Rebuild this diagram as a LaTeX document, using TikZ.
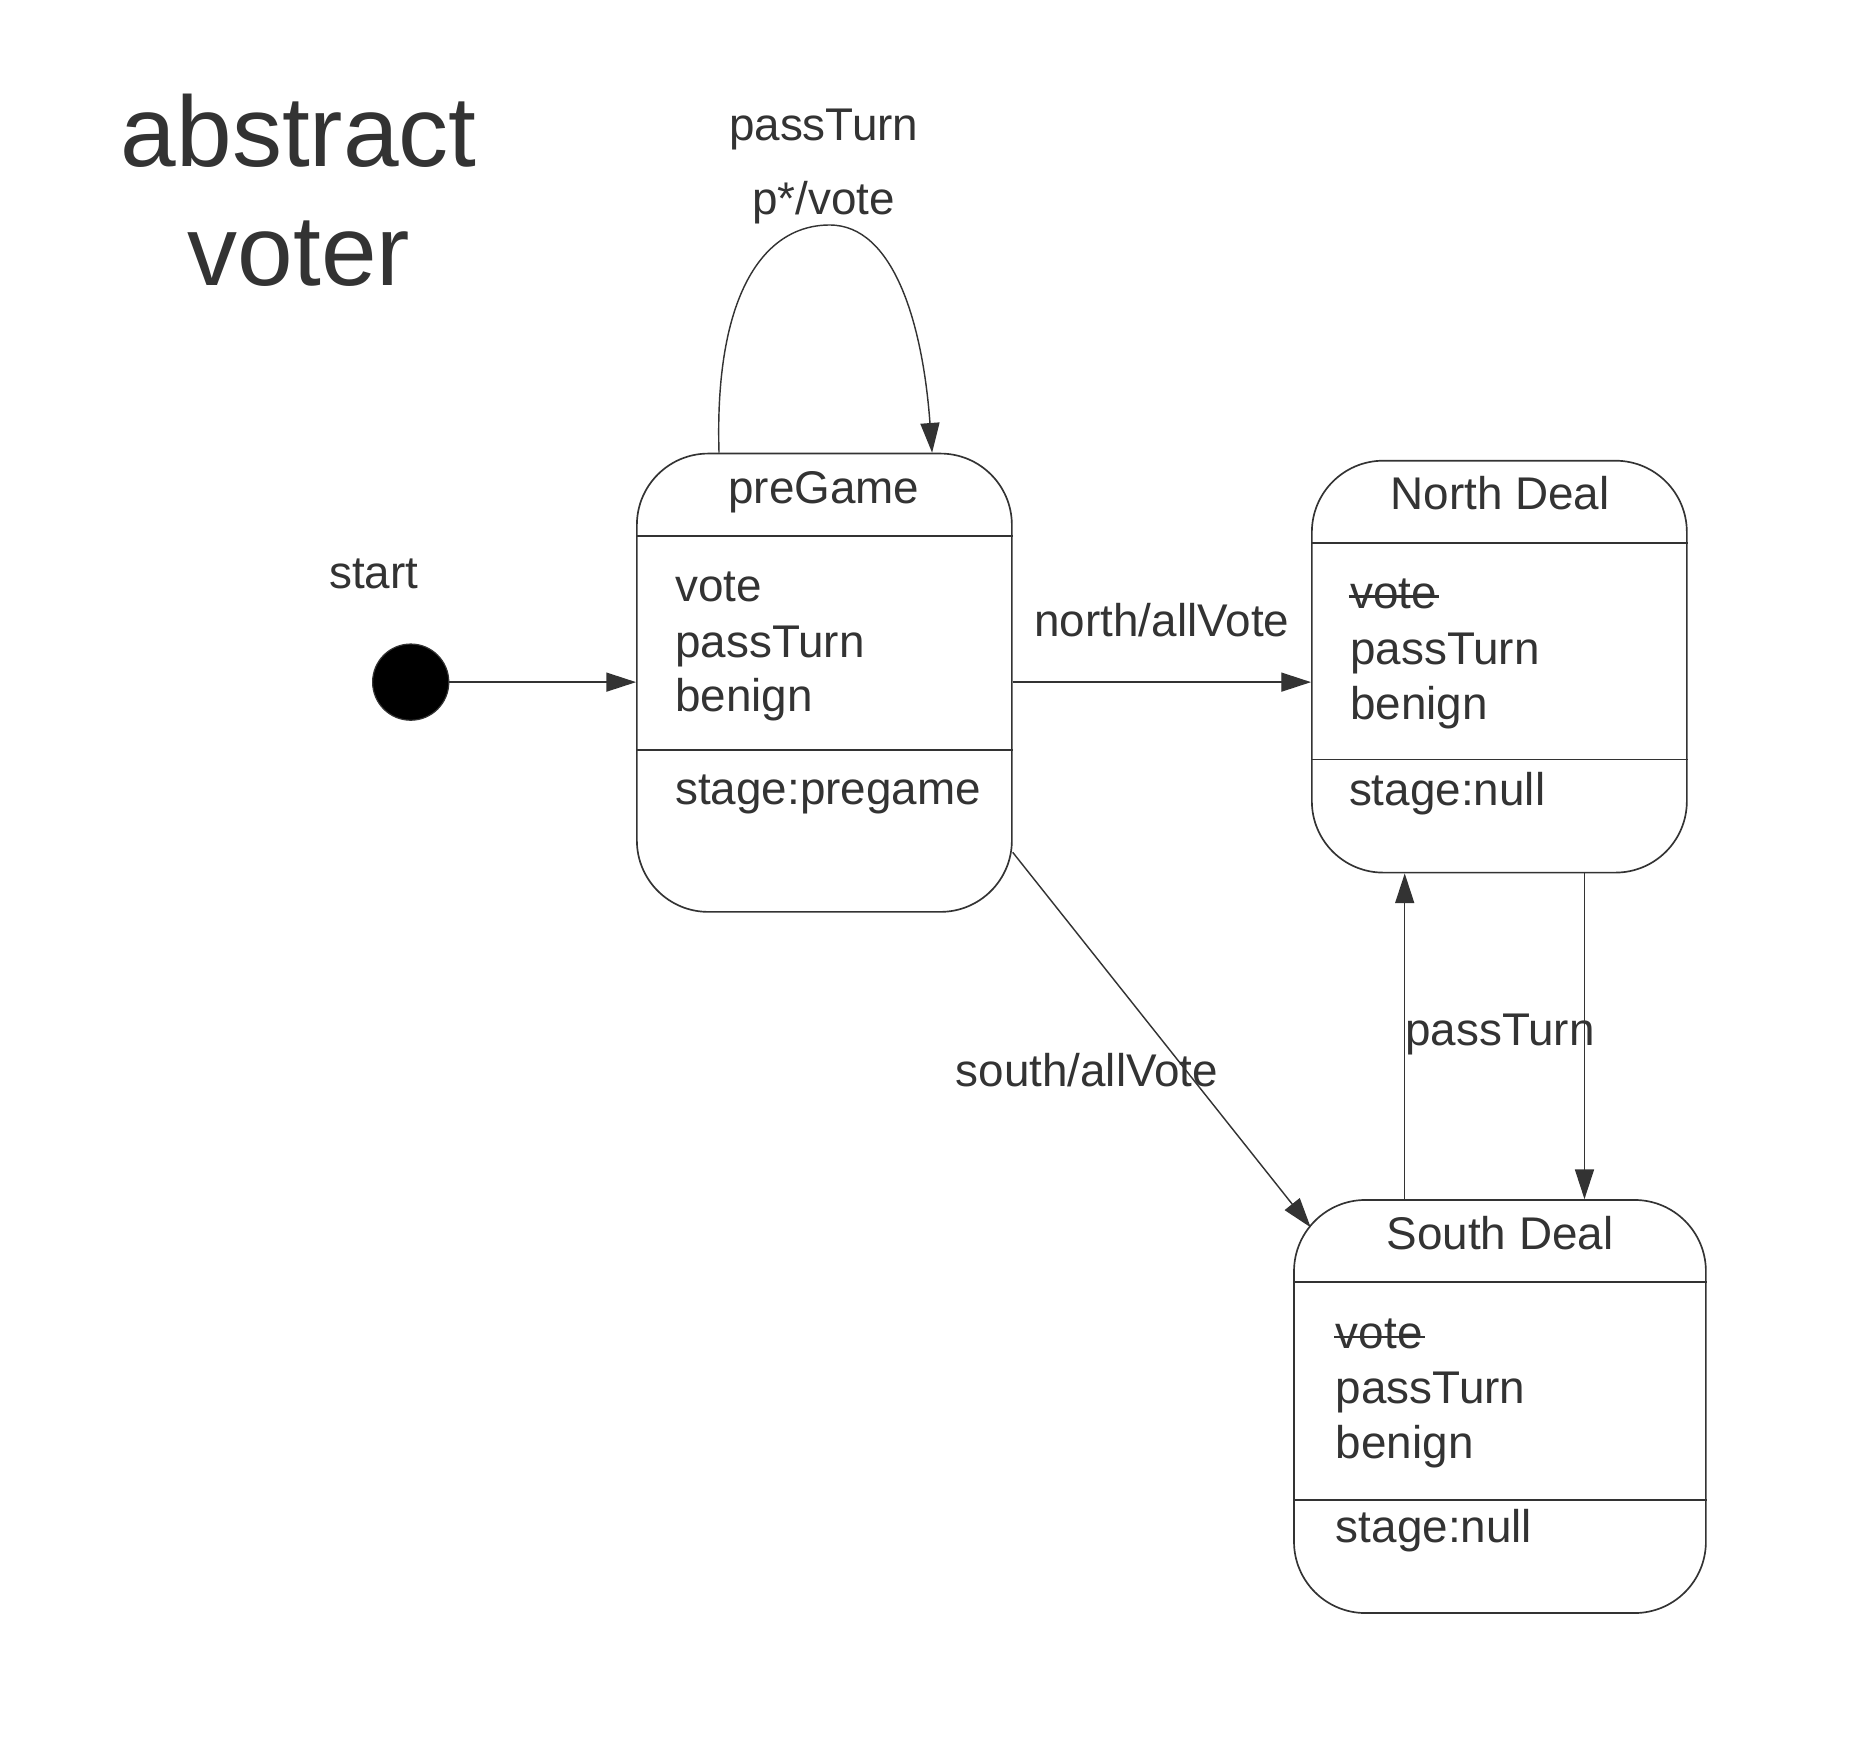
\documentclass[tikz,border=0pt]{standalone}
\usepackage{fontspec}
\setmainfont{Liberation Sans}
\usetikzlibrary{arrows.meta}
\definecolor{ink}{HTML}{333333}
\tikzset{
  state/.style={draw=ink, line width=1.4pt, rounded corners=60pt, inner sep=0pt},
  lbl/.style={text=ink, font=\fontsize{38.5}{46}\selectfont, inner sep=0pt, anchor=base},
  item/.style={lbl, anchor=base west},
  bigtitle/.style={text=ink, font=\fontsize{84}{100}\selectfont, inner sep=0pt, anchor=base},
  conn/.style={draw=ink, line width=1.2pt, -{Triangle[length=25pt,width=16pt]}},
  divider/.style={draw=ink, line width=1.4pt},
  strike/.style={draw=ink, line width=2.2pt},
}
\begin{document}
\begin{tikzpicture}[x=1pt, y=-1pt]
\useasboundingbox[fill=white] (0,0) rectangle (1567.5,1476);

% title
\node[bigtitle] (t1) at (251,140) {abstract};
\node[bigtitle] (t2) at (251,240) {voter};

% start
\node[circle, fill=black, draw=ink, line width=1pt, minimum size=64pt, inner sep=0pt] (start) at (345,573) {};
\node[lbl] (startlbl) at (314,494) {start};

% states
\node[state, minimum width=315pt, minimum height=385pt] (pre) at (692.5,573.5) {};
\node[state, minimum width=315pt, minimum height=346pt] (nd) at (1259.5,560) {};
\node[state, minimum width=346pt, minimum height=347pt] (sd) at (1260,1181.5) {};

% dividers
\coordinate (pd1) at (0,450);
\coordinate (pd2) at (0,630);
\coordinate (nd1) at (0,456);
\coordinate (nd2) at (0,638);
\coordinate (sd1) at (0,1077);
\coordinate (sd2) at (0,1260);
\draw[divider] (pre.west |- pd1) -- (pre.east |- pd1);
\draw[divider] (pre.west |- pd2) -- (pre.east |- pd2);
\draw[divider] (nd.west |- nd1) -- (nd.east |- nd1);
\draw[divider] (nd.west |- nd2) -- (nd.east |- nd2);
\draw[divider] (sd.west |- sd1) -- (sd.east |- sd1);
\draw[divider] (sd.west |- sd2) -- (sd.east |- sd2);

% preGame texts
\node[lbl] (preT) at (692,423) {preGame};
\node[item] (pre1) at (567,505) {vote};
\node[item] (pre2) at (567,552) {passTurn};
\node[item] (pre3) at (567,598) {benign};
\node[item] (pre4) at (567,676) {stage:pregame};

% North Deal texts
\node[lbl] (ndT) at (1260,428) {North Deal};
\node[item] (nd1t) at (1134,511) {vote};
\node[item] (nd2t) at (1134,558) {passTurn};
\node[item] (nd3t) at (1134,604) {benign};
\node[item] (nd4t) at (1133,677) {stage:null};
\draw[strike] ([xshift=-1pt,yshift=10pt]nd1t.base west) -- ([xshift=2pt,yshift=10pt]nd1t.base east);

% South Deal texts
\node[lbl] (sdT) at (1260,1050) {South Deal};
\node[item] (sd1t) at (1122,1133) {vote};
\node[item] (sd2t) at (1122,1179) {passTurn};
\node[item] (sd3t) at (1122,1225) {benign};
\node[item] (sd4t) at (1122,1296) {stage:null};
\draw[strike] ([xshift=-1pt,yshift=10pt]sd1t.base west) -- ([xshift=2pt,yshift=10pt]sd1t.base east);

% connectors
\draw[conn] (start.east) -- (start.east -| pre.west);

\coordinate (na) at (0,573);
\draw[conn] (pre.east |- na) -- (nd.west |- na);
\node[lbl] (nalbl) at (976,535) {north/allVote};

\coordinate (sdin) at (1101,1031);
\draw[conn] (pre.-42) -- (sdin);
\node[lbl] (salbl) at (913,913) {south/allVote};

\coordinate (lA) at (604,0);
\coordinate (lB) at (783,0);
\coordinate (ltop) at (697,189);
\draw[conn] (pre.north -| lA) .. controls (600,250) and (640,189) .. (ltop)
  .. controls (750,189) and (775,270) .. (pre.north -| lB);
\node[lbl] (looplbl1) at (692,118) {passTurn};
\node[lbl] (looplbl2) at (692,180) {p*/vote};

\coordinate (vA) at (1180,0);
\coordinate (vB) at (1331,0);
\draw[conn] (sd.north -| vA) -- (nd.south -| vA);
\draw[conn] (nd.south -| vB) -- (sd.north -| vB);
\node[lbl] (ptlbl) at (1260,878) {passTurn};
\end{tikzpicture}
\end{document}
